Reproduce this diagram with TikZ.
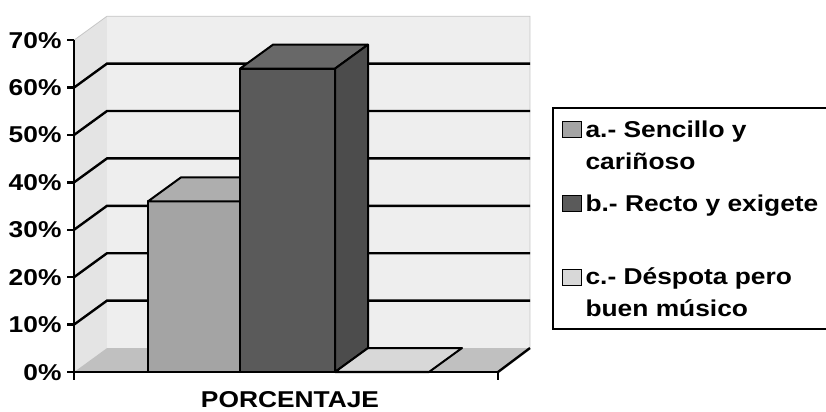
\documentclass[tikz,border=0pt]{standalone}
\usepackage{fontspec}
\setmainfont{Liberation Sans}[FakeStretch=1.15]
\usepackage{xcolor}
\usepackage{tikz}
\usetikzlibrary{positioning}

\definecolor{wallback}{HTML}{EEEEEE}
\definecolor{wallside}{HTML}{E4E4E4}
\definecolor{floorgray}{HTML}{C0C0C0}
\definecolor{bara}{HTML}{A4A4A4}
\definecolor{baratop}{HTML}{AEAEAE}
\definecolor{barb}{HTML}{5A5A5A}
\definecolor{barbtop}{HTML}{686868}
\definecolor{barbside}{HTML}{4C4C4C}
\definecolor{barc}{HTML}{D8D8D8}

\begin{document}
\begin{tikzpicture}[x=1bp, y=4.74bp, font=\bfseries\fontsize{23}{27}\selectfont,
    grid/.style={line width=2.4bp},
    edge/.style={draw=black, line width=2bp, line join=round},
    pct/.style={anchor=base east, yshift=-8bp},
    key/.style={draw=black, line width=1bp, minimum width=19bp, minimum height=16bp, inner sep=0pt},
    entry/.style={anchor=base west}]
    \useasboundingbox (-74bp,-40bp) rectangle (752bp,372bp);

    % walls and floor
    \fill[wallside] (0,0) -- (0,70) -- (33,75.06) -- (33,5.06) -- cycle;
    \fill[wallback] (33,5.06) rectangle (456,75.06);
    \fill[floorgray] (0,0) -- (33,5.06) -- (456,5.06) -- (424,0) -- cycle;
    \draw[gray!45, line width=0.8bp] (0,70) -- (33,75.06) -- (456,75.06) -- (456,5.06);

    \draw[grid] (0,10) -- (33,15.06) -- (456,15.06);
    \draw[grid] (0,20) -- (33,25.06) -- (456,25.06);
    \draw[grid] (0,30) -- (33,35.06) -- (456,35.06);
    \draw[grid] (0,40) -- (33,45.06) -- (456,45.06);
    \draw[grid] (0,50) -- (33,55.06) -- (456,55.06);
    \draw[grid] (0,60) -- (33,65.06) -- (456,65.06);

    % bars
    \filldraw[edge, fill=bara] (74,0) rectangle (166,36);
    \filldraw[edge, fill=baratop] (74,36) -- (107,41.06) -- (199,41.06) -- (166,36) -- cycle;
    \filldraw[edge, fill=barb] (166,0) rectangle (261,64);
    \filldraw[edge, fill=barbtop] (166,64) -- (199,69.06) -- (294,69.06) -- (261,64) -- cycle;
    \filldraw[edge, fill=barbside] (261,0) -- (294,5.06) -- (294,69.06) -- (261,64) -- cycle;
    \filldraw[edge, fill=barc] (261,0) -- (294,5.06) -- (388,5.06) -- (355,0) -- cycle;

    % axes
    \draw[grid] (424,0) -- (456,5.06);
    \draw[line width=2.4bp] (0,70) -- (0,-1.7);
    \draw[line width=2.4bp] (0,0) -- (424,0) -- (424,-1.7);
    \draw[line width=2.4bp] (-7,0) -- (0,0);
    \draw[line width=2.4bp] (-7,10) -- (0,10);
    \draw[line width=2.4bp] (-7,20) -- (0,20);
    \draw[line width=2.4bp] (-7,30) -- (0,30);
    \draw[line width=2.4bp] (-7,40) -- (0,40);
    \draw[line width=2.4bp] (-7,50) -- (0,50);
    \draw[line width=2.4bp] (-7,60) -- (0,60);
    \draw[line width=2.4bp] (-7,70) -- (0,70);

    \node[pct] (p0) at (-9,0) {0\%};
    \node[pct] (p10) at (-9,10) {10\%};
    \node[pct] (p20) at (-9,20) {20\%};
    \node[pct] (p30) at (-9,30) {30\%};
    \node[pct] (p40) at (-9,40) {40\%};
    \node[pct] (p50) at (-9,50) {50\%};
    \node[pct] (p60) at (-9,60) {60\%};
    \node[pct] (p70) at (-9,70) {70\%};

    \node[anchor=base] (xname) at (216,-7.59) {PORCENTAJE};

    % legend
    \draw[line width=2bp] (752bp,264bp) -- (479bp,264bp) -- (479bp,43bp) -- (752bp,43bp);
    \node[key, fill=bara] (key-a) at (498bp,242.5bp) {};
    \node[key, fill=barb] (key-b) at (498bp,168bp) {};
    \node[key, fill=barc] (key-c) at (498bp,94.5bp) {};
    \node[entry] (entry-a) at (508bp,234bp) {a.- Sencillo y};
    \node[entry] (entry-a2) at (508bp,202bp) {cariñoso};
    \node[entry] (entry-b) at (508bp,160bp) {b.- Recto y exigete};
    \node[entry] (entry-c) at (508bp,87bp) {c.- Déspota pero};
    \node[entry] (entry-c2) at (508bp,55bp) {buen músico};

\end{tikzpicture}
\end{document}
